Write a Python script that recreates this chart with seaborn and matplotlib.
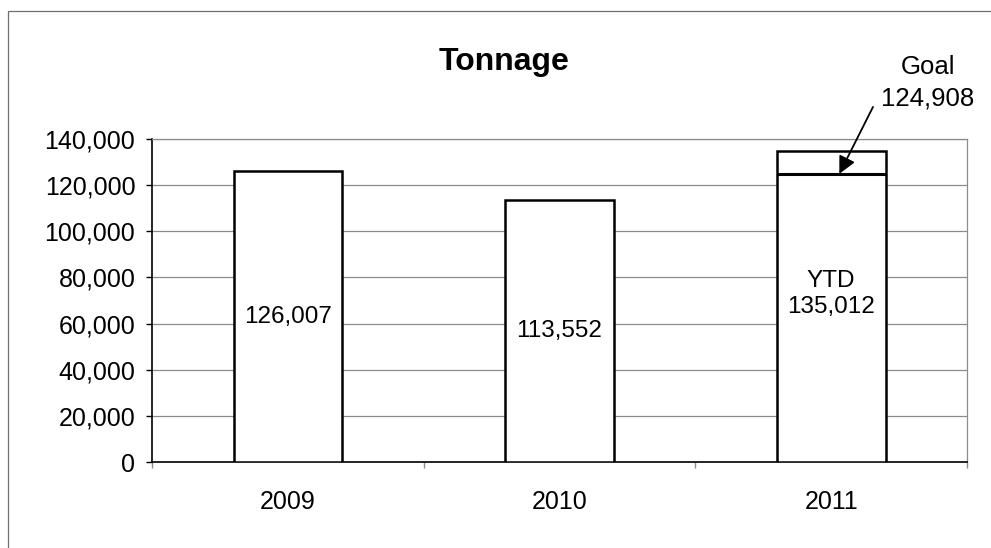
import pandas as pd
import seaborn as sns
import matplotlib.pyplot as plt
from matplotlib.patches import Rectangle
from matplotlib.ticker import FuncFormatter, FixedLocator

years = ['2009', '2010', '2011']
tonnage = [126007, 113552, 135012]
bar_labels = ['126,007', '113,552', 'YTD\n135,012']
goal_2011 = 124908
goal_label = 'Goal\n124,908'

# where the value labels sit inside the bars (data units)
label_y = [63000, 56800, 72800]

sns.set_theme(style='white')
plt.rcParams['font.family'] = ['Liberation Sans', 'DejaVu Sans']
plt.rcParams['text.color'] = 'black'
plt.rcParams['xtick.labelcolor'] = 'black'
plt.rcParams['ytick.labelcolor'] = 'black'

df = pd.DataFrame({'year': years, 'tonnage': tonnage})

fig = plt.figure(figsize=(9.91, 5.48), dpi=100)
ax = fig.add_axes([152 / 991, 1 - 462 / 548, 815 / 991, 323 / 548])

sns.barplot(data=df, x='year', y='tonnage', ax=ax, width=0.4,
            color='white', edgecolor='black', linewidth=1.8, zorder=3)
for p in ax.patches:
    p.set_facecolor('white')

ax.set_ylim(0, 140000)
ax.set_xlim(-0.5, 2.5)
ax.set_yticks(range(0, 140001, 20000))
ax.yaxis.set_major_formatter(FuncFormatter(lambda v, _: f'{int(v):,}'))
ax.grid(axis='y', color='#8c8c8c', lw=0.9, zorder=0)
ax.grid(axis='x', visible=False)
ax.set_xlabel('')
ax.set_ylabel('')

for side in ['top', 'right']:
    ax.spines[side].set_color('#8c8c8c')
    ax.spines[side].set_linewidth(0.9)
for side in ['left', 'bottom']:
    ax.spines[side].set_color('black')
    ax.spines[side].set_linewidth(1.2)

ax.tick_params(axis='y', which='major', left=True, length=4, width=1,
               color='black', labelcolor='black', pad=8, labelsize=18)
ax.tick_params(axis='x', which='major', bottom=False, length=0, pad=20,
               labelcolor='black', labelsize=18)
ax.xaxis.set_minor_locator(FixedLocator([-0.5, 0.5, 1.5, 2.5]))
ax.tick_params(axis='x', which='minor', bottom=True, length=4, width=1,
               color='#8c8c8c')

for i, txt in enumerate(bar_labels):
    ax.text(i, label_y[i], txt, ha='center', va='center', fontsize=17.5,
            linespacing=1.25, color='black', zorder=5)

# goal marker on the 2011 bar
ax.hlines(goal_2011, 2 - 0.2, 2 + 0.2, color='black', lw=2.2, zorder=4)
ax.annotate('', xy=(2.03, goal_2011), xytext=(2.154, 153900),
            arrowprops=dict(arrowstyle='-|>', color='black', lw=1.3,
                            mutation_scale=26, shrinkA=0, shrinkB=0),
            annotation_clip=False, zorder=6)
ax.text(2.356, 164500, goal_label, ha='center', va='center', fontsize=18.5,
        linespacing=1.4, color='black', clip_on=False)

fig.text(504 / 991, 1 - 70 / 548, 'Tonnage', ha='center', va='baseline',
         fontsize=23, fontweight='bold', color='black')

fig.add_artist(Rectangle((8 / 991, -0.05), 1.1, 1 - 11 / 548 + 0.05,
                         transform=fig.transFigure, fill=False,
                         edgecolor='#6e6e6e', lw=0.9))

fig.savefig('out.png', dpi=100)
plt.close()
